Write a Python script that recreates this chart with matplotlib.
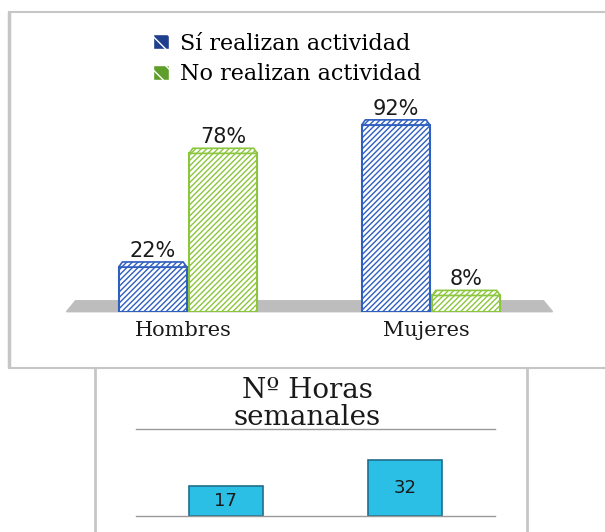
import matplotlib
matplotlib.use("Agg")
import matplotlib.pyplot as plt
from matplotlib.patches import Patch
from matplotlib.lines import Line2D
import numpy as np

categories = ['Hombres', 'Mujeres']
series_names = ['Sí realizan actividad', 'No realizan actividad']
si_values = [22, 92]
no_values = [78, 8]
hours_categories = ['Hombres', 'Mujeres']
hours_values = [17, 32]
hours_title = 'Nº Horas\nsemanales'

W, H = 605, 532
plt.rcParams['hatch.linewidth'] = 1.0
fig = plt.figure(figsize=(W / 100, H / 100), dpi=100)

def fx(px):
    return px / W

def fy(py):
    return 1 - py / H

serif = 'DejaVu Serif'
sans = 'DejaVu Sans'
border = '#C6C6C6'

def frame_line(x0, y0, x1, y1, lw):
    fig.add_artist(Line2D([fx(x0), fx(x1)], [fy(y0), fy(y1)], color=border,
                          lw=lw, transform=fig.transFigure, solid_capstyle='butt'))

# outer frames
frame_line(8, 12, 605, 12, 1.5)
frame_line(8.5, 12, 8.5, 368, 2.5)
frame_line(8, 368, 605, 368, 1.5)
frame_line(95, 368, 95, 532, 2)
frame_line(527, 368, 527, 532, 2)

# ---------------- top chart ----------------
blue = '#2F5FBF'
green = '#8CC63E'
ax = fig.add_axes([fx(66.5), fy(311.7), (552.5 - 66.5) / W, 203 / H])
ax.set_xlim(-0.5, 1.5)
ax.set_ylim(0, 100)
ax.axis('off')

# floor
ax.fill([-0.5, 1.5, 1.463, -0.463], [0, 0, 5.4, 5.4], color='#BDBDBD', zorder=0, clip_on=False)

x = np.arange(len(categories))
w = 0.28
off = 0.145
for vals, dx, col in [(si_values, -off, blue), (no_values, off, green)]:
    bars = ax.bar(x + dx, vals, w, facecolor='white', edgecolor=col, hatch='//////',
                  linewidth=1.5, zorder=2)
    for b, v in zip(bars, vals):
        x0 = b.get_x()
        x1 = x0 + b.get_width()
        ax.fill([x0, x1, x1 - 0.015, x0 + 0.015], [v, v, v + 2.5, v + 2.5],
                facecolor='white', edgecolor=col, hatch='//////', linewidth=1.2,
                zorder=2, clip_on=False)
        ax.text(x0 + b.get_width() / 2, v + 3.0, f'{v}%', ha='center', va='bottom',
                fontsize=15, family=sans, color='#1a1a1a', clip_on=False)

for xi, c in zip(x, categories):
    ax.text(xi - 0.02, -9.5, c, ha='center', va='center', fontsize=15, family=serif,
            color='#1a1a1a', clip_on=False)

handles = [Patch(facecolor='#1F3E8C', edgecolor='white', hatch='\\\\'),
           Patch(facecolor='#5E9E2A', edgecolor='white', hatch='\\\\')]
fig.legend(handles, series_names, loc='upper left', bbox_to_anchor=(fx(137), fy(17)),
           frameon=False, prop={'family': serif, 'size': 16}, handlelength=0.75,
           handleheight=0.65, handletextpad=0.5, labelspacing=0.4, borderpad=0.2)

# ---------------- bottom chart ----------------
ax2 = fig.add_axes([fx(136), fy(516), (495 - 136) / W, 87 / H])
ax2.set_xlim(-0.5, 1.5)
ax2.set_ylim(0, 50)
for s in ['left', 'right']:
    ax2.spines[s].set_visible(False)
for s in ['top', 'bottom']:
    ax2.spines[s].set_color('#9A9A9A')
    ax2.spines[s].set_linewidth(1)
ax2.set_xticks([])
ax2.set_yticks([])
x2 = np.arange(len(hours_values))
bars2 = ax2.bar(x2, hours_values, 0.41, color='#2BBFE6', edgecolor='#1F6E8C', linewidth=1.2,
                zorder=2)
for b, v in zip(bars2, hours_values):
    ax2.text(b.get_x() + b.get_width() / 2, v / 2, f'{v}', ha='center', va='center',
             fontsize=13, family=sans, color='#1a1a1a')

fig.text(fx(307), fy(404), hours_title, ha='center', va='center', fontsize=20,
         family=serif, color='#1a1a1a', linespacing=1.0)

fig.savefig('out.png', dpi=100)
